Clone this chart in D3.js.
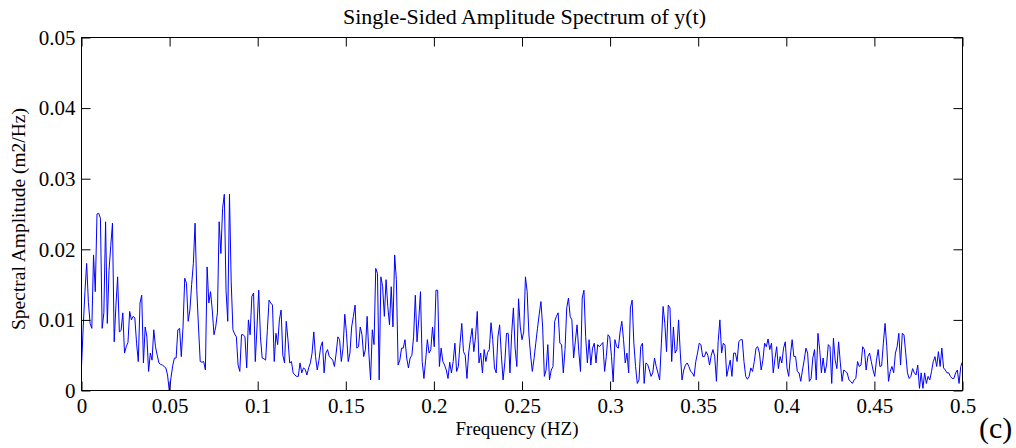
<!DOCTYPE html>
<html>
<head>
<meta charset="utf-8">
<script src="https://cdn.jsdelivr.net/npm/d3@7/dist/d3.min.js"></script>
<style>
  html, body { margin: 0; padding: 0; background: #fff; }
  svg { display: block; }
  text { font-family: "Liberation Serif", "Times New Roman", serif; fill: #000; }
</style>
</head>
<body>
<svg id="chart" width="1016" height="448"></svg>
<script>
// ---- data ----
const titleText = "Single-Sided Amplitude Spectrum of y(t)";
const xLabelText = "Frequency (HZ)";
const yLabelText = "Spectral Amplitude (m2/Hz)";
const panelTag = "(c)";
const xTicks = [0, 0.05, 0.1, 0.15, 0.2, 0.25, 0.3, 0.35, 0.4, 0.45, 0.5];
const xTickLabels = ["0", "0.05", "0.1", "0.15", "0.2", "0.25", "0.3", "0.35", "0.4", "0.45", "0.5"];
const yTicks = [0, 0.01, 0.02, 0.03, 0.04, 0.05];
const yTickLabels = ["0", "0.01", "0.02", "0.03", "0.04", "0.05"];
const sampleRate = 1;      // Hz
const nfft = 1024;         // single-sided spectrum has nfft/2+1 bins
// amplitude per frequency bin (bin k at k*sampleRate/nfft Hz)
const amplitude = [
0.0034,0.009,0.014,0.018,0.0125,0.0095,0.0088,0.0192,0.014,0.025,
0.0251,0.0244,0.0088,0.011,0.0239,0.0095,0.017,0.0205,0.0237,0.0069,
0.012,0.0161,0.0083,0.0085,0.011,0.0053,0.0062,0.0068,0.0112,0.0100,
0.0105,0.0103,0.0067,0.0041,0.0124,0.0135,0.0039,0.009,0.0076,0.0027,
0.0053,0.0043,0.0086,0.0062,0.005,0.0039,0.0037,0.0036,0.0034,0.0032,
0.0022,0.0,0.0018,0.0035,0.0046,0.0046,0.0086,0.0088,0.0048,0.009,
0.0159,0.0152,0.0098,0.0114,0.015,0.018,0.0237,0.0142,0.009,0.0041,
0.004,0.0041,0.0029,0.0175,0.0124,0.014,0.0114,0.0079,0.009,0.011,
0.0239,0.0194,0.0258,0.0278,0.0142,0.0098,0.0278,0.0154,0.0086,0.008,
0.0076,0.0036,0.0027,0.0079,0.0079,0.0076,0.0032,0.010,0.0079,0.0133,
0.0138,0.0041,0.009,0.0142,0.0076,0.0046,0.0045,0.0043,0.0085,0.0128,
0.0124,0.0121,0.0041,0.0081,0.0065,0.01,0.0114,0.005,0.0039,0.0098,
0.0072,0.0039,0.0041,0.0025,0.0022,0.002,0.002,0.0039,0.0025,0.0032,
0.003,0.0022,0.0032,0.0039,0.0053,0.0083,0.0048,0.0029,0.0043,0.0062,
0.0069,0.0025,0.0053,0.0058,0.0048,0.0046,0.0043,0.0034,0.0053,0.0076,
0.0072,0.0041,0.006,0.0108,0.0081,0.0041,0.0053,0.009,0.0105,0.0121,
0.006,0.0062,0.009,0.0079,0.0048,0.0058,0.0105,0.0053,0.0015,0.0086,
0.0065,0.0173,0.0166,0.0015,0.0161,0.0147,0.0105,0.0157,0.0119,0.0093,
0.0147,0.009,0.0192,0.0157,0.0036,0.0043,0.006,0.006,0.0072,0.0046,
0.0032,0.0046,0.005,0.0076,0.0135,0.0069,0.01,0.014,0.0041,0.0017,
0.0043,0.0072,0.0053,0.0058,0.009,0.0062,0.0142,0.0142,0.0034,0.006,
0.0041,0.0036,0.0029,0.0017,0.004,0.0025,0.0041,0.0067,0.0027,0.0034,
0.0067,0.0095,0.0055,0.005,0.0017,0.0053,0.0072,0.0088,0.0055,0.0076,
0.0112,0.0039,0.0053,0.0025,0.0058,0.0041,0.0054,0.0058,0.0096,0.0072,
0.0032,0.0025,0.0076,0.0093,0.005,0.0015,0.0039,0.0081,0.0081,0.0025,
0.0081,0.0117,0.006,0.0034,0.013,0.009,0.0072,0.0083,0.0161,0.014,
0.008,0.005,0.0027,0.0045,0.0067,0.0088,0.0108,0.0126,0.009,0.002,
0.0029,0.0065,0.0015,0.0029,0.0034,0.0098,0.0105,0.011,0.0067,0.0065,
0.0025,0.0058,0.0117,0.0131,0.0105,0.01,0.0046,0.007,0.0093,0.0055,
0.0027,0.0131,0.0142,0.0076,0.0039,0.0072,0.0036,0.006,0.0067,0.0039,
0.0065,0.0062,0.0065,0.0068,0.0027,0.0048,0.0079,0.0076,0.0048,0.0012,
0.0072,0.0062,0.006,0.0083,0.0098,0.0072,0.0039,0.0053,0.0025,0.0117,
0.0128,0.0067,0.0034,0.001,0.0015,0.0062,0.0067,0.001,0.0039,0.0037,
0.0029,0.002,0.0025,0.0046,0.0034,0.0025,0.0015,0.0067,0.0119,0.0095,
0.0055,0.0121,0.0117,0.0041,0.009,0.0053,0.0058,0.01,0.0053,0.0015,
0.0029,0.0036,0.0039,0.0034,0.0027,0.0025,0.002,0.0041,0.0053,0.0067,
0.0065,0.0048,0.0048,0.0055,0.005,0.0036,0.005,0.0058,0.0048,0.0013,
0.0069,0.01,0.0053,0.0067,0.0064,0.002,0.0032,0.0043,0.002,0.0053,
0.0053,0.0041,0.0069,0.0072,0.0072,0.0041,0.002,0.0016,0.002,0.0032,
0.0027,0.0041,0.006,0.0062,0.0053,0.0029,0.0043,0.0067,0.0062,0.0073,
0.0058,0.0067,0.0025,0.0045,0.0062,0.0031,0.0048,0.0039,0.006,0.0069,
0.0032,0.002,0.005,0.0072,0.0048,0.0048,0.0027,0.0025,0.0013,0.0029,
0.0043,0.006,0.0053,0.0013,0.0017,0.0046,0.0058,0.0015,0.0081,0.0058,
0.0025,0.0046,0.0025,0.0036,0.0065,0.0062,0.001,0.0074,0.0043,0.0031,
0.0069,0.0039,0.0013,0.0029,0.0027,0.0025,0.0015,0.0013,0.001,0.0015,
0.0017,0.0041,0.0034,0.0036,0.0062,0.0058,0.0029,0.0048,0.0053,0.0041,
0.0029,0.002,0.0043,0.0058,0.0034,0.0035,0.0067,0.0095,0.0062,0.0013,
0.0027,0.0034,0.0025,0.0053,0.0062,0.0081,0.0036,0.0081,0.0079,0.0053,
0.0025,0.0017,0.002,0.0031,0.0025,0.0022,0.0036,0.0003,0.0025,0.0003,
0.0025,0.001,0.002,0.0015,0.0027,0.0041,0.0048,0.0034,0.0055,0.0034,
0.006,0.0032,0.0029,0.0025,0.0025,0.002,0.0017,0.0017,0.0025,0.0029,
0.001,0.0034,0.0041
];
// frequency axis of the single-sided spectrum (bins of the FFT)
const frequency = amplitude.map((_, k) => k * sampleRate / nfft);

// ---- layout ----
const svg = d3.select("#chart");
const plot = { left: 81.5, right: 962.5, top: 37.5, bottom: 390.5 };

const x = d3.scaleLinear().domain([0, 0.5]).range([plot.left, plot.right]);
const y = d3.scaleLinear().domain([0, 0.05]).range([plot.bottom, plot.top]);

const tickLen = 9;
const serif = '"Liberation Serif", "Times New Roman", serif';

// data line (clipped to plot)
svg.append("clipPath").attr("id", "clip")
  .append("rect").attr("x", plot.left).attr("y", plot.top - 1)
  .attr("width", plot.right - plot.left).attr("height", plot.bottom - plot.top + 1);

const line = d3.line().x((d, i) => x(frequency[i])).y(d => y(d));
svg.append("path")
  .datum(amplitude)
  .attr("clip-path", "url(#clip)")
  .attr("fill", "none")
  .attr("stroke", "#0000ff")
  .attr("stroke-width", 1)
  .attr("d", line);

// axes: bottom with labels, top/left/right mirrored ticks (inward)
const xAxisBottom = d3.axisBottom(x).tickValues(xTicks)
  .tickFormat((d, i) => xTickLabels[i]).tickSizeInner(-tickLen).tickSizeOuter(0).tickPadding(8);
const xAxisTop = d3.axisTop(x).tickValues(xTicks).tickFormat("").tickSizeInner(-tickLen).tickSizeOuter(0);
const yAxisLeft = d3.axisLeft(y).tickValues(yTicks)
  .tickFormat((d, i) => yTickLabels[i]).tickSizeInner(-tickLen).tickSizeOuter(0).tickPadding(6);
const yAxisRight = d3.axisRight(y).tickValues(yTicks).tickFormat("").tickSizeInner(-tickLen).tickSizeOuter(0);

function style(g) {
  g.select(".domain").remove();
  g.selectAll(".tick line").attr("stroke", "#000").attr("stroke-width", 1);
  g.selectAll(".tick text").style("font-family", serif).style("font-size", "21px").attr("fill", "#000");
}

svg.append("g").attr("transform", `translate(0,${plot.bottom})`).call(xAxisBottom).call(style);
svg.append("g").attr("transform", `translate(0,${plot.top})`).call(xAxisTop).call(style);
svg.append("g").attr("transform", `translate(${plot.left},0)`).call(yAxisLeft).call(style);
svg.append("g").attr("transform", `translate(${plot.right},0)`).call(yAxisRight).call(style);

// box
svg.append("rect")
  .attr("x", plot.left).attr("y", plot.top)
  .attr("width", plot.right - plot.left).attr("height", plot.bottom - plot.top)
  .attr("fill", "none").attr("stroke", "#000").attr("stroke-width", 1);

// texts
svg.append("text")
  .attr("x", 524.5).attr("y", 24)
  .attr("text-anchor", "middle").style("font-size", "22px")
  .text(titleText);

svg.append("text")
  .attr("x", 517).attr("y", 435)
  .attr("text-anchor", "middle").style("font-size", "19px")
  .text(xLabelText);

svg.append("text")
  .attr("transform", "translate(25,219) rotate(-90)")
  .attr("text-anchor", "middle").style("font-size", "19.5px")
  .text(yLabelText);

svg.append("text")
  .attr("x", 979).attr("y", 438)
  .style("font-size", "30px")
  .text(panelTag);
</script>
</body>
</html>
